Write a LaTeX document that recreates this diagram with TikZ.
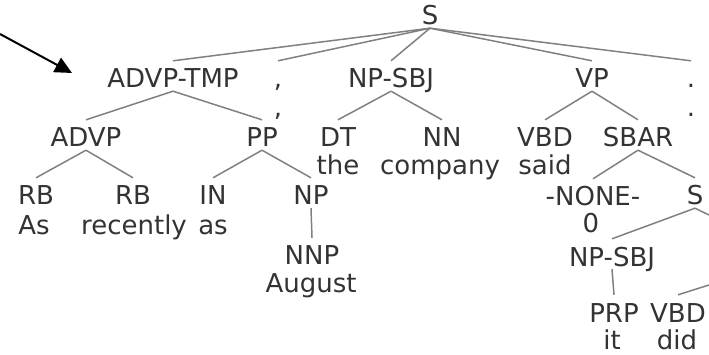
\documentclass[tikz,border=0pt]{standalone}
\usepackage{fontspec}
\setmainfont{DejaVu Sans}
\usetikzlibrary{arrows.meta}

\begin{document}
\begin{tikzpicture}[x=1pt,y=-1pt,
    ptag/.style={anchor=base,inner sep=0pt,inner ysep=3pt,text height=24pt,text depth=0pt,text=black!80,font=\fontsize{26}{28}\selectfont},
    pword/.style={anchor=base,inner sep=0pt,text=black!80,font=\fontsize{26}{28}\selectfont},
    branch/.style={black!50,line width=1.5pt}]
    \useasboundingbox (0,0) rectangle (709,355);
    \node[ptag] (s) at (430,25) {S};

    \node[ptag] (advptmp) at (173,88) {ADVP-TMP};
    \node[ptag] (commatag) at (278,88) {,};
    \node[ptag] (npsbj) at (391,88) {NP-SBJ};
    \node[ptag] (vp) at (592,88) {VP};
    \node[ptag] (periodtag) at (691,88) {.};
    \node[pword] (commaword) at (278,117) {,};
    \node[pword] (periodword) at (691,117) {.};

    \node[ptag] (advp) at (86,147) {ADVP};
    \node[ptag] (pp) at (262,147) {PP};
    \node[ptag] (dt) at (338,147) {DT};
    \node[ptag] (nn) at (442,147) {NN};
    \node[ptag] (vbd) at (545,147) {VBD};
    \node[ptag] (sbar) at (638,147) {SBAR};
    \node[pword] (the) at (338,175) {the};
    \node[pword] (company) at (440,175) {company};
    \node[pword] (said) at (545,175) {said};

    \node[ptag] (rba) at (36,205) {RB};
    \node[ptag] (rbb) at (133,205) {RB};
    \node[ptag] (prepin) at (213,205) {IN};
    \node[ptag] (np) at (311,205) {NP};
    \node[ptag] (none) at (593,206) {-NONE-};
    \node[ptag] (sinner) at (695,205) {S};
    \node[pword] (as1) at (34,235) {As};
    \node[pword] (recently) at (134,235) {recently};
    \node[pword] (as2) at (213,235) {as};
    \node[pword] (zero) at (591,233) {0};

    \node[ptag] (nnp) at (312,265) {NNP};
    \node[pword] (august) at (311,292) {August};
    \node[ptag] (npsbjinner) at (612,266) {NP-SBJ};

    \node[ptag] (prp) at (614,322) {PRP};
    \node[ptag] (vbdinner) at (678,322) {VBD};
    \node[pword] (it) at (612,349) {it};
    \node[pword] (did) at (677,349) {did};

    % branches leaving the picture on the right
    \coordinate (vpcut) at (709,215);
    \coordinate (vbdcut) at (709,285);

    \coordinate (arrowtail) at (0,34);
    \coordinate (arrowtip) at (72,73);

    \path[branch]
    (s.south) edge (advptmp.north)
    (s.south) edge (commatag.north)
    (s.south) edge (npsbj.north)
    (s.south) edge (vp.north)
    (s.south) edge (periodtag.north)
    (advptmp.south) edge (advp.north)
    (advptmp.south) edge (pp.north)
    (npsbj.south) edge (dt.north)
    (npsbj.south) edge (nn.north)
    (vp.south) edge (vbd.north)
    (vp.south) edge (sbar.north)
    (advp.south) edge (rba.north)
    (advp.south) edge (rbb.north)
    (pp.south) edge (prepin.north)
    (pp.south) edge (np.north)
    (np.south) edge (nnp.north)
    (sbar.south) edge (none.north)
    (sbar.south) edge (sinner.north)
    (sinner.south) edge (npsbjinner.north)
    (sinner.south) edge (vpcut)
    (npsbjinner.south) edge (prp.north)
    (vbdcut) edge (vbdinner.north);

    \draw[-{Triangle[length=17pt,width=16pt]},line width=2pt] (arrowtail) -- (arrowtip);
\end{tikzpicture}
\end{document}
